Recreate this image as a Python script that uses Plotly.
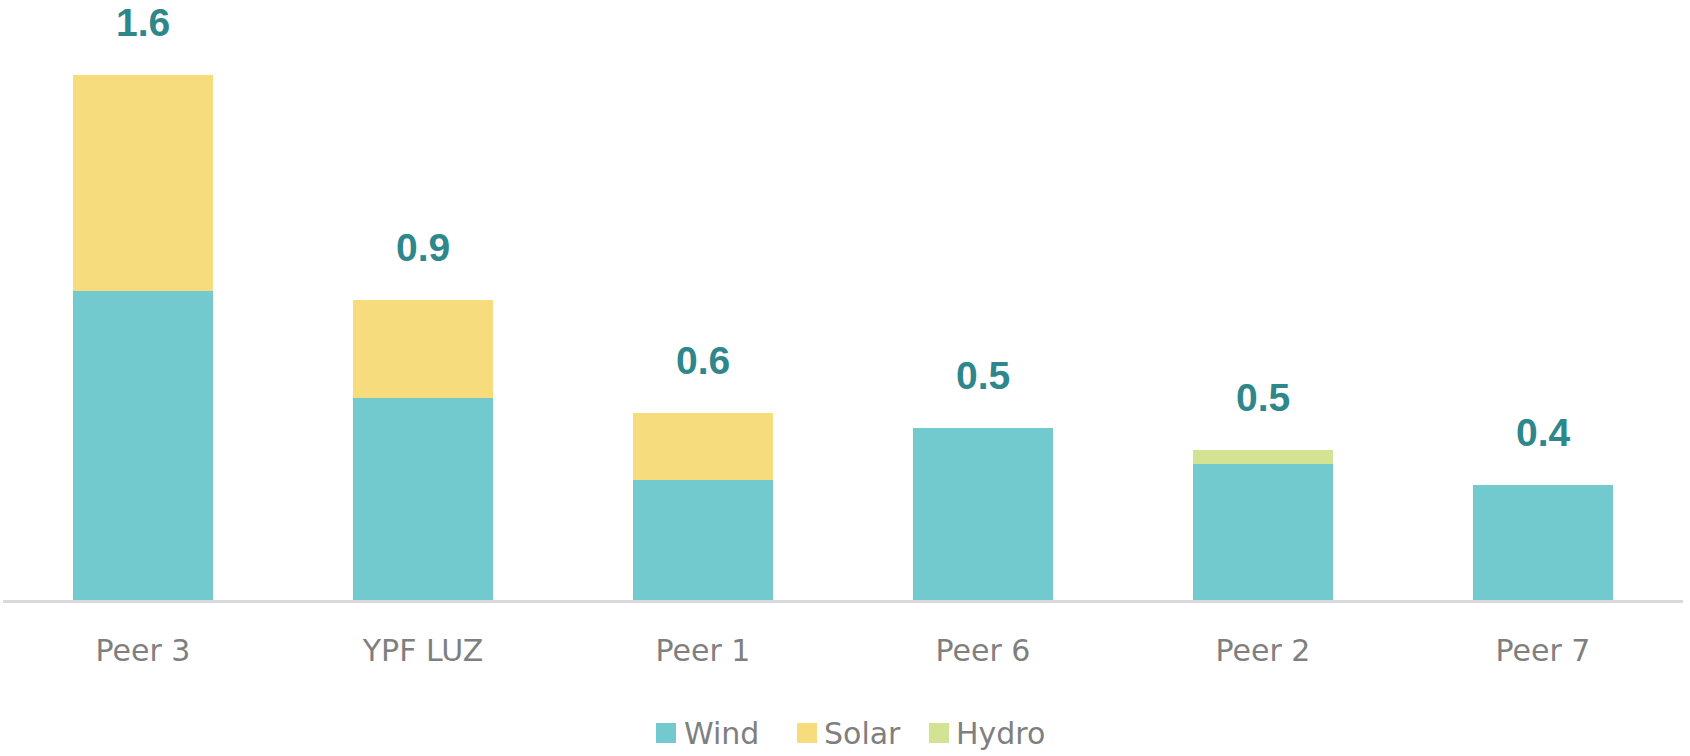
import plotly.graph_objects as go

categories = ["Peer 3", "YPF LUZ", "Peer 1", "Peer 6", "Peer 2", "Peer 7"]
wind = [0.942, 0.617, 0.367, 0.525, 0.416, 0.351]
solar = [0.660, 0.299, 0.204, 0.0, 0.0, 0.0]
hydro = [0.0, 0.0, 0.0, 0.0, 0.043, 0.0]
series_names = ["Wind", "Solar", "Hydro"]
series_colors = ["#73CACE", "#F6DC7C", "#D2E394"]

totals = [w + s + h for w, s, h in zip(wind, solar, hydro)]

W, H = 1690, 756
ml, mr, mt, mb = 3, 7, 10, 156

fig = go.Figure()
for name, vals, col in zip(series_names, [wind, solar, hydro], series_colors):
    fig.add_trace(go.Bar(
        x=categories, y=vals, name=name, marker=dict(color=col, line=dict(width=0)),
        showlegend=False, hoverinfo="x+y+name",
    ))

for c, t in zip(categories, totals):
    fig.add_annotation(
        x=c, y=t, text=f"{t:.1f}", showarrow=False, yanchor="middle", yshift=52,
        borderpad=0,
        font=dict(family="Liberation Sans, Arial", size=39, color="#2E888B", weight="bold"),
    )

# Legend drawn in paper coordinates
pw = W - ml - mr
ph = H - mt - mb
def px_x(x):
    return (x - ml) / pw
def px_y(y):
    return (H - mb - y) / ph

legend_items = [(656, 682), (797, 822), (929, 954)]
for (sq_x, tx), name, col in zip(legend_items, series_names, series_colors):
    fig.add_shape(type="rect", xref="paper", yref="paper",
                  x0=px_x(sq_x), x1=px_x(sq_x + 20), y0=px_y(743), y1=px_y(723),
                  fillcolor=col, line=dict(width=0))
    fig.add_annotation(xref="paper", yref="paper", x=px_x(tx), y=px_y(733),
                       text=name, showarrow=False, xanchor="left", yanchor="middle",
                       font=dict(family="DejaVu Sans", size=30, color="#7F7F7F"))

fig.update_layout(
    width=W, height=H, barmode="stack", bargap=0.5,
    margin=dict(l=ml, r=mr, t=mt, b=mb, autoexpand=False),
    plot_bgcolor="white", paper_bgcolor="white",
    xaxis=dict(showline=True, linecolor="#D9D9D9", linewidth=3, ticks="",
               tickfont=dict(family="DejaVu Sans", size=30, color="#7F7F7F"),
               ticklabelstandoff=22, showgrid=False, zeroline=False),
    yaxis=dict(range=[0, 1.8], visible=False, showgrid=False, zeroline=False),
)

fig.write_html("out.html")
